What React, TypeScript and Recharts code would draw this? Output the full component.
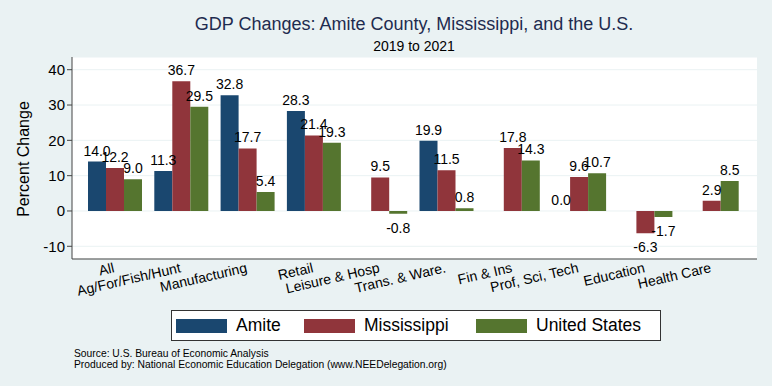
import { Bar, BarChart, CartesianGrid, LabelList, XAxis, YAxis } from "recharts";

const categories = [
  "All",
  "Ag/For/Fish/Hunt",
  "Manufacturing",
  "Retail",
  "Leisure & Hosp",
  "Trans. & Ware.",
  "Fin & Ins",
  "Prof, Sci, Tech",
  "Education",
  "Health Care",
];
const amite = [14.0, 11.3, 32.8, 28.3, null, 19.9, null, 0.0, null, null];
const mississippi = [12.2, 36.7, 17.7, 21.4, 9.5, 11.5, 17.8, 9.6, -6.3, 2.9];
const unitedStates = [9.0, 29.5, 5.4, 19.3, -0.8, 0.8, 14.3, 10.7, -1.7, 8.5];
const yTicks = [-10, 0, 10, 20, 30, 40];

const series = [
  { key: "amite", name: "Amite", color: "#1a476f", legendWidth: 128 },
  { key: "mississippi", name: "Mississippi", color: "#90353b", legendWidth: 172 },
  { key: "unitedStates", name: "United States", color: "#55752f", legendWidth: 170 },
];

const data = categories.map((name, i) => ({
  name,
  amite: amite[i],
  mississippi: mississippi[i],
  unitedStates: unitedStates[i],
}));

const FONT = "'Liberation Sans', Arial, Helvetica, sans-serif";

// value labels sit above positive bars and below negative ones
const BarValue = (props: any) => {
  const { x, y, width, height, value } = props;
  if (value === null || value === undefined) return null;
  const cx = Number(x) + Number(width) / 2;
  const top = Math.min(Number(y), Number(y) + Number(height));
  const bottom = Math.max(Number(y), Number(y) + Number(height));
  const ty = value < 0 ? bottom + 19 : top - 6;
  return (
    <text x={cx} y={ty} textAnchor="middle" fontSize={14} fill="#000">
      {Number(value).toFixed(1)}
    </text>
  );
};

const CategoryTick = (props: any) => {
  const { x, y, payload } = props;
  const ty = y + 13;
  return (
    <text
      x={x}
      y={ty}
      textAnchor="end"
      fontSize={14}
      fill="#000"
      transform={`rotate(-13, ${x}, ${ty})`}
    >
      {payload.value}
    </text>
  );
};

const App = () => {
  return (
    <div
      style={{
        position: "absolute",
        left: 0,
        top: 0,
        width: 772,
        height: 386,
        background: "#eaf2f3",
        fontFamily: FONT,
        overflow: "hidden",
      }}
    >
      <BarChart
        width={772}
        height={386}
        data={data}
        barSize={18}
        barGap={0}
        margin={{ top: 57, right: 15, bottom: 97, left: 12 }}
      >
        <CartesianGrid vertical={false} stroke="#eaf2f3" fill="#ffffff" fillOpacity={1} />
        <XAxis
          dataKey="name"
          interval={0}
          height={30}
          tickLine={false}
          tickSize={0}
          tickMargin={0}
          padding={{ left: 10, right: 12 }}
          axisLine={{ stroke: "#444" }}
          tick={<CategoryTick />}
        />
        <YAxis
          type="number"
          width={60}
          domain={[-13.6, 43.6]}
          allowDataOverflow
          ticks={yTicks}
          tickSize={5}
          tickMargin={2}
          axisLine={{ stroke: "#444" }}
          tickLine={{ stroke: "#444" }}
          tick={{ fontSize: 15, fill: "#000" }}
        />
        {series.map((s) => (
          <Bar
            key={s.key}
            dataKey={s.key}
            name={s.name}
            fill={s.color}
            minPointSize={0.01}
            isAnimationActive={false}
          >
            <LabelList dataKey={s.key} content={<BarValue />} />
          </Bar>
        ))}
      </BarChart>

      <svg
        width={772}
        height={386}
        style={{ position: "absolute", left: 0, top: 0, pointerEvents: "none" }}
      >
        <text x={414} y={30} textAnchor="middle" fontSize={18} fill="#1e2b4f">
          GDP Changes: Amite County, Mississippi, and the U.S.
        </text>
        <text x={414} y={51} textAnchor="middle" fontSize={14} fill="#000">
          2019 to 2021
        </text>
        <text
          x={29}
          y={159}
          textAnchor="middle"
          fontSize={16}
          fill="#000"
          transform="rotate(-90, 29, 159)"
        >
          Percent Change
        </text>
        <text x={74} y={357} fontSize={10.3} fill="#000">
          Source: U.S. Bureau of Economic Analysis
        </text>
        <text x={74} y={368} fontSize={10.3} fill="#000">
          Produced by: National Economic Education Delegation (www.NEEDelegation.org)
        </text>
      </svg>

      <div
        style={{
          position: "absolute",
          left: 171,
          top: 310,
          width: 484,
          height: 29,
          border: "1px solid #333",
          background: "#fff",
          display: "flex",
          alignItems: "center",
          paddingLeft: 4,
          boxSizing: "content-box",
        }}
      >
        {series.map((s) => (
          <div
            key={s.key}
            style={{ display: "flex", alignItems: "center", width: s.legendWidth }}
          >
            <div style={{ width: 51, height: 14, background: s.color, marginRight: 9 }} />
            <span style={{ fontSize: 17.5, color: "#000" }}>{s.name}</span>
          </div>
        ))}
      </div>
    </div>
  );
};

export default App;
